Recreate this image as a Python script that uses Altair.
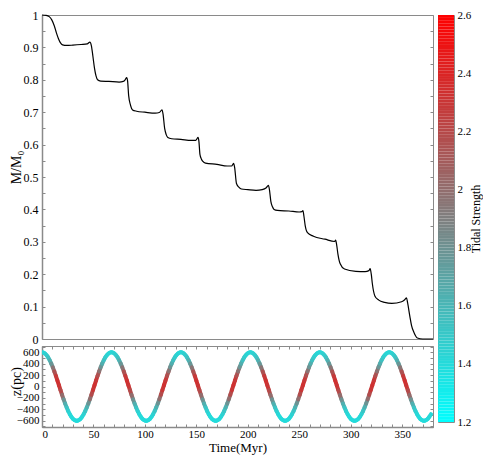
import altair as alt
import pandas as pd

# ---------------- data ----------------
mass_time = [0, 4, 7, 9.5, 12, 14, 16, 18, 20, 24, 30, 38, 44, 46.5, 48, 49.5, 51, 52.5, 54, 57,
             65, 75, 79, 81, 82.3, 83.2, 84.2, 86, 88, 92, 100, 110, 114, 116.6, 117.6, 119.2,
             120.8, 122.3, 126, 135, 145, 149.4, 151.6, 152.5, 153.5, 155, 156.4, 158.9, 170, 180,
             184.3, 186.2, 187.2, 189, 191.5, 193.8, 200, 208, 214, 218, 220, 221, 222.4, 224,
             225.6, 228.8, 240, 250, 252.6, 253.6, 254.6, 255.8, 258, 263.8, 275, 284.4, 285.4,
             286.4, 287.6, 289.8, 294, 305, 314, 317.7, 318.9, 320, 321, 323.5, 327.3, 333, 340,
             349.5, 352.5, 354.3, 355.3, 357.5, 359.1, 361.5, 364.8, 370, 380]
mass_frac = [1.0, 0.999, 0.995, 0.985, 0.966, 0.945, 0.927, 0.914, 0.908, 0.906, 0.907, 0.909,
             0.911, 0.916, 0.905, 0.872, 0.836, 0.812, 0.800, 0.796, 0.795, 0.793, 0.795, 0.801,
             0.807, 0.796, 0.752, 0.722, 0.707, 0.703, 0.700, 0.697, 0.699, 0.707, 0.695, 0.650,
             0.630, 0.622, 0.618, 0.616, 0.613, 0.613, 0.622, 0.610, 0.570, 0.555, 0.548, 0.543,
             0.539, 0.534, 0.534, 0.542, 0.530, 0.480, 0.468, 0.463, 0.461, 0.459, 0.461, 0.467,
             0.474, 0.462, 0.425, 0.408, 0.400, 0.397, 0.395, 0.392, 0.393, 0.396, 0.378, 0.350,
             0.328, 0.317, 0.308, 0.301, 0.305, 0.290, 0.262, 0.232, 0.216, 0.209, 0.208, 0.211,
             0.217, 0.200, 0.172, 0.133, 0.120, 0.113, 0.110, 0.115, 0.121, 0.127, 0.112, 0.070,
             0.042, 0.020, 0.003, 0.0, 0.0]

# z(pc) sampled every 1.5 Myr from t = 0
z_pc = [
    600, 594, 577, 548, 509, 460, 401, 336, 263, 185, 104, 21, -63, -145, -225, -300, -369, -432, -485, -530, -564, -587, -599, -599, -587, -564, -530, -485, -432, -369, -300, -225, -145, -63, 21, 104, 185, 263, 336, 401, 460, 509, 548, 577, 594,
    600, 594, 577, 548, 509, 460, 401, 336, 263, 185, 104, 21, -63, -145, -225, -300, -369, -432, -485, -530, -564, -587, -599, -599, -587, -564, -530, -485, -432, -369, -300, -225, -145, -63, 21, 104, 185, 263, 336, 401, 460, 509, 548, 577, 594,
    600, 594, 577, 548, 509, 460, 401, 336, 263, 185, 104, 21, -63, -145, -225, -300, -369, -432, -485, -530, -564, -587, -599, -599, -587, -564, -530, -485, -432, -369, -300, -225, -145, -63, 21, 104, 185, 263, 336, 401, 460, 509, 548, 577, 594,
    600, 594, 577, 548, 509, 460, 401, 336, 263, 185, 104, 21, -63, -145, -225, -300, -369, -432, -485, -530, -564, -587, -599, -599, -587, -564, -530, -485, -432, -369, -300, -225, -145, -63, 21, 104, 185, 263, 336, 401, 460, 509, 548, 577, 594,
    600, 594, 577, 548, 509, 460, 401, 336, 263, 185, 104, 21, -63, -145, -225, -300, -369, -432, -485, -530, -564, -587, -599, -599, -587, -564, -530, -485, -432, -369, -300, -225, -145, -63, 21, 104, 185, 263, 336, 401, 460, 509, 548, 577, 594,
    600, 594, 577, 548, 509, 460, 401, 336, 263, 185, 104, 21, -63, -145, -225, -300, -369, -432, -485, -530, -564, -587, -599, -599, -587, -564, -530, -485,
]
tidal_strength = [
    1.42, 1.42, 1.44, 1.46, 1.50, 1.58, 1.70, 1.86, 2.07, 2.24, 2.33, 2.34, 2.27, 2.11, 1.89, 1.70, 1.57, 1.48, 1.43, 1.40, 1.40, 1.40, 1.40, 1.40, 1.40, 1.40, 1.40, 1.43, 1.48, 1.57, 1.70, 1.89, 2.11, 2.27, 2.34, 2.33, 2.24, 2.07, 1.86, 1.70, 1.58, 1.50, 1.46, 1.44, 1.42,
    1.42, 1.42, 1.44, 1.46, 1.50, 1.58, 1.70, 1.86, 2.07, 2.24, 2.33, 2.34, 2.27, 2.11, 1.89, 1.70, 1.57, 1.48, 1.43, 1.40, 1.40, 1.40, 1.40, 1.40, 1.40, 1.40, 1.40, 1.43, 1.48, 1.57, 1.70, 1.89, 2.11, 2.27, 2.34, 2.33, 2.24, 2.07, 1.86, 1.70, 1.58, 1.50, 1.46, 1.44, 1.42,
    1.42, 1.42, 1.44, 1.46, 1.50, 1.58, 1.70, 1.86, 2.07, 2.24, 2.33, 2.34, 2.27, 2.11, 1.89, 1.70, 1.57, 1.48, 1.43, 1.40, 1.40, 1.40, 1.40, 1.40, 1.40, 1.40, 1.40, 1.43, 1.48, 1.57, 1.70, 1.89, 2.11, 2.27, 2.34, 2.33, 2.24, 2.07, 1.86, 1.70, 1.58, 1.50, 1.46, 1.44, 1.42,
    1.42, 1.42, 1.44, 1.46, 1.50, 1.58, 1.70, 1.86, 2.07, 2.24, 2.33, 2.34, 2.27, 2.11, 1.89, 1.70, 1.57, 1.48, 1.43, 1.40, 1.40, 1.40, 1.40, 1.40, 1.40, 1.40, 1.40, 1.43, 1.48, 1.57, 1.70, 1.89, 2.11, 2.27, 2.34, 2.33, 2.24, 2.07, 1.86, 1.70, 1.58, 1.50, 1.46, 1.44, 1.42,
    1.42, 1.42, 1.44, 1.46, 1.50, 1.58, 1.70, 1.86, 2.07, 2.24, 2.33, 2.34, 2.27, 2.11, 1.89, 1.70, 1.57, 1.48, 1.43, 1.40, 1.40, 1.40, 1.40, 1.40, 1.40, 1.40, 1.40, 1.43, 1.48, 1.57, 1.70, 1.89, 2.11, 2.27, 2.34, 2.33, 2.24, 2.07, 1.86, 1.70, 1.58, 1.50, 1.46, 1.44, 1.42,
    1.42, 1.42, 1.44, 1.46, 1.50, 1.58, 1.70, 1.86, 2.07, 2.24, 2.33, 2.34, 2.27, 2.11, 1.89, 1.70, 1.57, 1.48, 1.43, 1.40, 1.40, 1.40, 1.40, 1.40, 1.40, 1.40, 1.40, 1.43,
]
orbit_step = 1.5
orbit_time = [round(i * orbit_step, 2) for i in range(len(z_pc))]

mass_ticks = [0, 0.1, 0.2, 0.3, 0.4, 0.5, 0.6, 0.7, 0.8, 0.9, 1]
mass_minor = [round(i * 0.05, 2) for i in range(21)]
z_ticks = [-600, -400, -200, 0, 200, 400, 600]
z_minor = [i * 100 for i in range(-7, 8)]
time_ticks = [0, 50, 100, 150, 200, 250, 300, 350]
time_minor = [i * 10 for i in range(39)]
strength_ticks = [1.2, 1.4, 1.6, 1.8, 2.0, 2.2, 2.4, 2.6]
cbar_levels = [round(1.2 + i * 0.01, 2) for i in range(141)]

# ---------------- styling ----------------
FONT = "Liberation Serif"
FRAME = "#8a8a8a"
LBL = "format(datum.value, '~g')"
W = 391
H_TOP = 324
H_BOT = 81
CB_W = 16
CB_H = 407

mass_df = pd.DataFrame({"t": mass_time, "m": mass_frac})
seg_df = pd.DataFrame({
    "t": orbit_time[:-1], "t2": orbit_time[1:],
    "z": z_pc[:-1], "z2": z_pc[1:],
    "s": [(a + b) / 2 for a, b in zip(tidal_strength[:-1], tidal_strength[1:])],
})
cb_df = pd.DataFrame({"lo": cbar_levels[:-1], "hi": cbar_levels[1:],
                      "mid": [(a + b) / 2 for a, b in zip(cbar_levels[:-1], cbar_levels[1:])]})

x_scale = alt.Scale(domain=[0, 380], nice=False, zero=False)
y_top_scale = alt.Scale(domain=[0, 1], nice=False, zero=False)
y_bot_scale = alt.Scale(domain=[-710, 710], nice=False, zero=False)
c_scale = alt.Scale(domain=[1.2, 2.6], range=["#00ffff", "#ff0000"], interpolate="rgb")


def tick_axis(orient, offset, values):
    return alt.Axis(orient=orient, offset=offset, values=values, labels=False, domain=False,
                    ticks=True, tickSize=3, tickColor=FRAME, tickWidth=1, title=None, grid=False)


# ---------------- top panel: M/M0 ----------------
top_line = alt.Chart(mass_df).mark_line(color="black", strokeWidth=1.2, interpolate="monotone").encode(
    x=alt.X("t:Q", scale=x_scale, axis=None),
    y=alt.Y("m:Q", scale=y_top_scale,
            axis=alt.Axis(orient="left", values=mass_ticks, labelExpr=LBL, ticks=False,
                          domain=True, domainColor=FRAME, domainWidth=1.5,
                          labelPadding=4, labelFontSize=12, minExtent=19, maxExtent=19,
                          title="M/M\u2080", titleFontSize=14, titlePadding=0, titleY=152)),
)
top_t1 = alt.Chart(mass_df).mark_line(strokeOpacity=0, strokeWidth=0).encode(
    x=alt.X("t:Q", scale=x_scale, axis=None),
    y=alt.Y("m:Q", scale=y_top_scale, axis=tick_axis("right", -W, mass_minor)),
)
top_t2 = alt.Chart(mass_df).mark_line(strokeOpacity=0, strokeWidth=0).encode(
    x=alt.X("t:Q", scale=x_scale, axis=None),
    y=alt.Y("m:Q", scale=y_top_scale, axis=tick_axis("left", -W, mass_minor)),
)
top = alt.layer(top_line, top_t1, top_t2).resolve_axis(y="independent").properties(width=W, height=H_TOP)

# ---------------- bottom panel: z(pc) ----------------
bot_curve = alt.Chart(seg_df).mark_rule(strokeWidth=4, strokeCap="round", clip=True).encode(
    x=alt.X("t:Q", scale=x_scale,
            axis=alt.Axis(orient="bottom", values=time_ticks, labelExpr=LBL, ticks=False,
                          domain=True, domainColor=FRAME, domainWidth=1.5,
                          labelPadding=1, labelFontSize=11,
                          title="Time(Myr)", titleFontSize=13, titlePadding=2)),
    x2="t2:Q",
    y=alt.Y("z:Q", scale=y_bot_scale,
            axis=alt.Axis(orient="left", values=z_ticks, labelExpr=LBL, ticks=False,
                          domain=True, domainColor=FRAME, domainWidth=1.5,
                          labelPadding=3, labelFontSize=11, minExtent=19, maxExtent=19,
                          title="z(pc)", titleFontSize=14, titlePadding=0, titleY=35)),
    y2="z2:Q",
    color=alt.Color("s:Q", scale=c_scale, legend=None),
)
bot_t1 = alt.Chart(seg_df).mark_line(strokeOpacity=0, strokeWidth=0).encode(
    x=alt.X("t:Q", scale=x_scale, axis=tick_axis("top", -H_BOT, time_minor)),
    y=alt.Y("z:Q", scale=y_bot_scale, axis=tick_axis("right", -W, z_minor)),
)
bot_t2 = alt.Chart(seg_df).mark_line(strokeOpacity=0, strokeWidth=0).encode(
    x=alt.X("t:Q", scale=x_scale, axis=tick_axis("bottom", -H_BOT, time_minor)),
    y=alt.Y("z:Q", scale=y_bot_scale, axis=tick_axis("left", -W, z_minor)),
)
bottom = alt.layer(bot_curve, bot_t1, bot_t2).resolve_axis(
    x="independent", y="independent").properties(width=W, height=H_BOT)

# ---------------- colour bar ----------------
colorbar = alt.Chart(cb_df).mark_rect(strokeWidth=0).encode(
    x=alt.value(0), x2=alt.value(CB_W),
    y=alt.Y("lo:Q", scale=alt.Scale(domain=[1.2, 2.6], nice=False, zero=False),
            axis=alt.Axis(orient="right", values=strength_ticks, labelExpr=LBL, ticks=False,
                          domain=False, labelPadding=3, labelFontSize=11,
                          title="Tidal Strength", titleFontSize=12, titleAngle=270,
                          titleBaseline="top", titlePadding=0)),
    y2="hi:Q",
    color=alt.Color("mid:Q", scale=c_scale, legend=None),
).properties(width=CB_W, height=CB_H)

left = alt.vconcat(top, bottom, spacing=-6)
chart = alt.hconcat(left, colorbar, spacing=1).properties(
    padding={"left": 0, "top": 0, "right": 0, "bottom": 0}
).configure_view(
    stroke=FRAME, strokeWidth=1
).configure_axis(
    labelFont=FONT, titleFont=FONT, labelColor="black", titleColor="black",
    titleFontWeight="normal", grid=False
)

chart.save("out.html", embed_options={"renderer": "svg", "actions": False})
